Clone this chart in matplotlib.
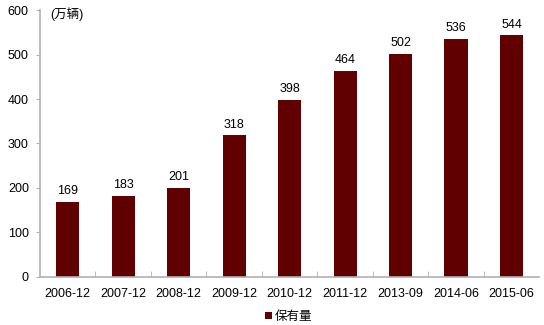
import matplotlib.pyplot as plt
import numpy as np

plt.rcParams['font.family'] = ['Liberation Sans', 'Noto Sans CJK SC', 'DejaVu Sans']

# data
periods = ['2006-12', '2007-12', '2008-12', '2009-12', '2010-12',
           '2011-12', '2013-09', '2014-06', '2015-06']
holdings = [169, 183, 201, 318, 398, 464, 502, 536, 544]

fig = plt.figure(figsize=(5.44, 3.25), dpi=100)
ax = fig.add_axes([0.0735, 0.148, 0.918, 0.821])

x = np.arange(len(periods))
bars = ax.bar(x, holdings, width=0.42, color='#600000', label='保有量')
for xi, v in zip(x, holdings):
    ax.text(xi, v + 10, str(v), ha='center', va='bottom', fontsize=9)

ax.set_xlim(-0.5, len(periods) - 0.5)
ax.set_ylim(0, 600)
ax.set_yticks(range(0, 601, 100))
ax.set_xticks(x)
ax.set_xticklabels(periods, fontsize=9)
ax.tick_params(axis='y', labelsize=9, length=3, color='#b0b0b0', pad=5)
ax.tick_params(axis='x', length=0, pad=8)
ax.set_xticks(np.arange(0.5, len(periods) - 1, 1), minor=True)
ax.tick_params(axis='x', which='minor', length=4, color='#b0b0b0', direction='in')

for s in ['top', 'right']:
    ax.spines[s].set_visible(False)
for s in ['left', 'bottom']:
    ax.spines[s].set_color('#b0b0b0')
    ax.spines[s].set_linewidth(1.2)

ax.text(0.02, 0.985, '(万辆)', transform=ax.transAxes, fontsize=9,
        ha='left', va='center')

fig.legend(handles=[bars], labels=['保有量'], loc='center', bbox_to_anchor=(0.53, 0.025),
           frameon=False, fontsize=9, handlelength=0.6, handleheight=0.6,
           handletextpad=0.2)

plt.savefig('out.png', dpi=100)
